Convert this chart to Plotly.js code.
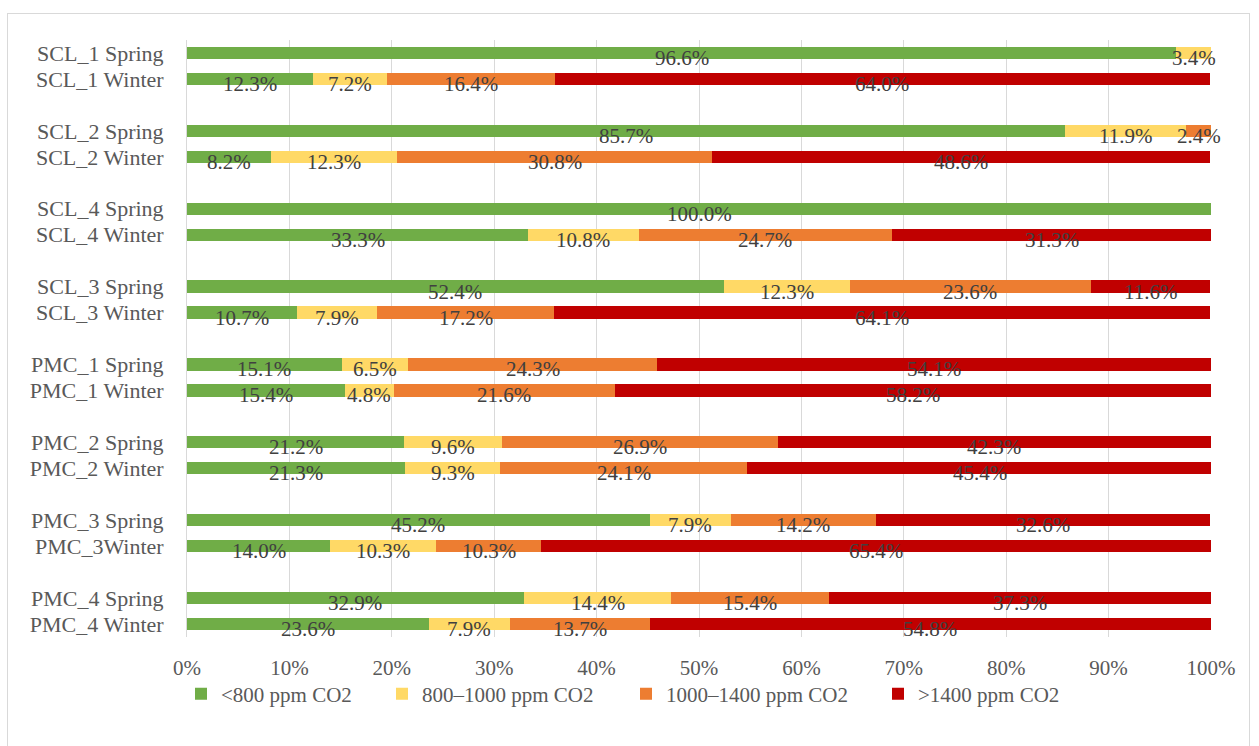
<!DOCTYPE html>
<html>
<head>
<meta charset="utf-8">
<script src="https://cdn.plot.ly/plotly-3.0.1.min.js"></script>
<style>
html, body { margin:0; padding:0; background:#fff; }
#frame { position:absolute; left:7px; top:13px; width:1243px; height:760px; border:1px solid #d9d9d9; box-sizing:border-box; }
#chart { position:absolute; left:0; top:0; width:1259px; height:746px; }
</style>
</head>
<body>
<div id="frame"></div>
<div id="chart"></div>
<script>
const categories = [
  "SCL_1 Spring","SCL_1 Winter","SCL_2 Spring","SCL_2 Winter",
  "SCL_4 Spring","SCL_4 Winter","SCL_3 Spring","SCL_3 Winter",
  "PMC_1 Spring","PMC_1 Winter","PMC_2 Spring","PMC_2 Winter",
  "PMC_3 Spring","PMC_3Winter","PMC_4 Spring","PMC_4 Winter"
];
const seriesNames = ["<800 ppm CO2","800\u20131000 ppm CO2","1000\u20131400 ppm CO2",">1400 ppm CO2"];
const below800   = [96.6, 12.3, 85.7,  8.2, 100.0, 33.3, 52.4, 10.7, 15.1, 15.4, 21.2, 21.3, 45.2, 14.0, 32.9, 23.6];
const from800    = [ 3.4,  7.2, 11.9, 12.3,   0.0, 10.8, 12.3,  7.9,  6.5,  4.8,  9.6,  9.3,  7.9, 10.3, 14.4,  7.9];
const from1000   = [ 0.0, 16.4,  2.4, 30.8,   0.0, 24.7, 23.6, 17.2, 24.3, 21.6, 26.9, 24.1, 14.2, 10.3, 15.4, 13.7];
const above1400  = [ 0.0, 64.0,  0.0, 48.6,   0.0, 31.3, 11.6, 64.1, 54.1, 58.2, 42.3, 45.4, 32.6, 65.4, 37.3, 54.8];
const tickLabels = ["0%","10%","20%","30%","40%","50%","60%","70%","80%","90%","100%"];
const tickValues = [0,10,20,30,40,50,60,70,80,90,100];
const colors = ["#70AD47","#FFD966","#ED7D31","#C00000"];

const series = [below800, from800, from1000, above1400];
// position: two bars per group, blank slot between groups
const pos = categories.map((c,i)=> Math.floor(i/2)*3 + (i%2));

const FONT = "'Liberation Serif', 'Times New Roman', serif";
const legendKeys = ['legend','legend2','legend3','legend4'];

const traces = series.map((vals, k) => ({
  type: 'bar',
  orientation: 'h',
  name: seriesNames[k],
  legend: legendKeys[k],
  x: vals.map(v => v === 0 ? null : v),
  y: pos,
  width: 0.47,
  marker: { color: colors[k], line: {width: 0} },
  hoverinfo: 'skip'
}));

const annotations = [];
categories.forEach((c, i) => {
  let cum = 0;
  series.forEach((vals) => {
    const v = vals[i];
    if (v > 0) {
      annotations.push({
        x: cum + v/2, y: pos[i], xref: 'x', yref: 'y',
        text: v.toFixed(1) + '%', showarrow: false,
        yshift: -5,
        font: { family: FONT, size: 21, color: '#404040' }
      });
    }
    cum += v;
  });
});

// legend placement (left edges in pixels of the picture)
const plotL = 187, plotW = 1024, plotT = 40, plotH = 597;
const legendLeftPx = [181, 382, 626, 878];
const legendCenterY = 694;

const layout = {
  width: 1259, height: 746,
  margin: { l: plotL, r: 1259 - plotL - plotW, t: plotT, b: 746 - plotT - plotH },
  paper_bgcolor: 'rgba(0,0,0,0)',
  plot_bgcolor: 'rgba(0,0,0,0)',
  barmode: 'stack',
  showlegend: true,
  xaxis: {
    range: [0, 100],
    tickvals: tickValues, ticktext: tickLabels,
    showgrid: true, gridcolor: '#d9d9d9', gridwidth: 1,
    zeroline: false, showline: false,
    ticks: 'outside', ticklen: 12, tickcolor: 'rgba(0,0,0,0)',
    tickfont: { family: FONT, size: 21, color: '#595959' },
    fixedrange: true
  },
  yaxis: {
    range: [22.5, -0.5],
    tickvals: pos, ticktext: categories,
    showgrid: false, zeroline: false,
    showline: true, linecolor: '#d9d9d9', linewidth: 1,
    ticks: 'outside', ticklen: 18, tickcolor: 'rgba(0,0,0,0)',
    tickfont: { family: FONT, size: 22, color: '#595959' },
    fixedrange: true
  },
  annotations: annotations
};
legendKeys.forEach((key, k) => {
  layout[key] = {
    orientation: 'h',
    x: (legendLeftPx[k] - plotL) / plotW, xanchor: 'left',
    y: (plotT + plotH - legendCenterY) / plotH, yanchor: 'middle',
    font: { family: FONT, size: 21, color: '#595959' },
    itemwidth: 30, bgcolor: 'rgba(0,0,0,0)'
  };
});

Plotly.newPlot('chart', traces, layout, { displayModeBar: false, staticPlot: true });
</script>
</body>
</html>
